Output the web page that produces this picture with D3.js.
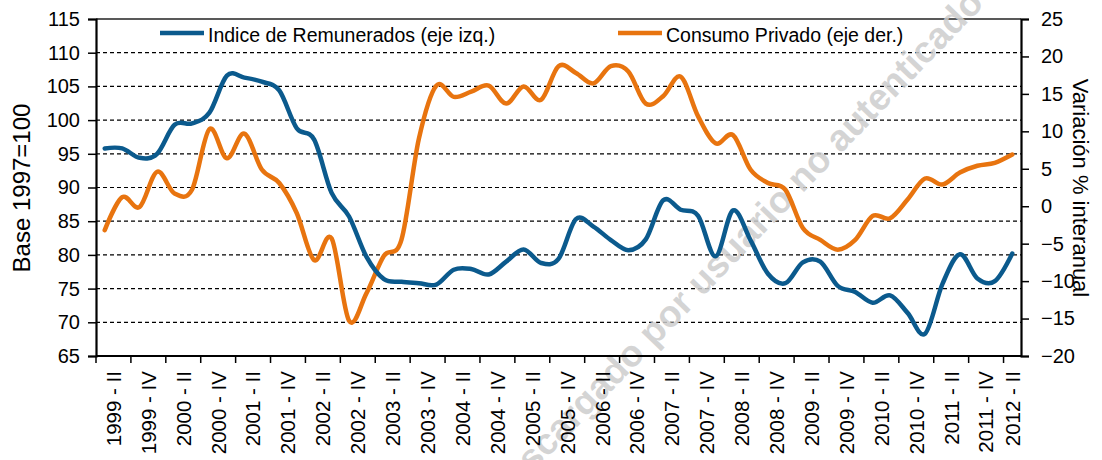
<!DOCTYPE html>
<html>
<head>
<meta charset="utf-8">
<script src="https://cdn.jsdelivr.net/npm/d3@7"></script>
<style>
  body { margin: 0; background: #fff; }
  svg { display: block; font-family: "Liberation Sans", Arial, sans-serif; }
</style>
</head>
<body>
<div id="chart"></div>
<script>
// quarters shown on the x axis (every 2nd one gets a label)
var quarters = [
  "1999 - II", "1999 - III", "1999 - IV",
  "2000 - I", "2000 - II", "2000 - III", "2000 - IV",
  "2001 - I", "2001 - II", "2001 - III", "2001 - IV",
  "2002 - I", "2002 - II", "2002 - III", "2002 - IV",
  "2003 - I", "2003 - II", "2003 - III", "2003 - IV",
  "2004 - I", "2004 - II", "2004 - III", "2004 - IV",
  "2005 - I", "2005 - II", "2005 - III", "2005 - IV",
  "2006 - I", "2006 - II", "2006 - III", "2006 - IV",
  "2007 - I", "2007 - II", "2007 - III", "2007 - IV",
  "2008 - I", "2008 - II", "2008 - III", "2008 - IV",
  "2009 - I", "2009 - II", "2009 - III", "2009 - IV",
  "2010 - I", "2010 - II", "2010 - III", "2010 - IV",
  "2011 - I", "2011 - II", "2011 - III", "2011 - IV",
  "2012 - I", "2012 - II"
];

// Indice de Remunerados (left axis, base 1997=100)
var remunerados = [
  95.8, 95.8, 94.4,
  95.0, 99.3, 99.5, 101.1,
  106.6, 106.3, 105.7, 104.4,
  98.8, 97.1, 89.2, 85.7,
  79.7, 76.4, 76.0, 75.8,
  75.6, 77.8, 77.9, 77.1,
  79.0, 80.8, 78.8, 79.4,
  85.3, 84.2, 82.2, 80.7,
  82.3, 88.1, 86.7, 85.8,
  79.8, 86.6, 82.2, 77.2,
  75.8, 78.9, 79.0, 75.4,
  74.5, 72.9, 74.0, 71.4,
  68.3, 75.7, 80.1, 76.5,
  76.1, 80.2
];

// Consumo Privado (right axis, % interanual)
var consumo = [
  -3.2, 1.2, -0.1,
  4.6, 1.7, 2.2, 10.3,
  6.4, 9.7, 4.9, 3.1,
  -0.9, -7.2, -4.3, -15.3,
  -11.6, -6.6, -4.5, 9.0,
  16.1, 14.6, 15.3, 16.1,
  13.7, 16.0, 14.2, 18.7,
  17.8, 16.4, 18.7, 18.0,
  13.7, 14.7, 17.3, 12.0,
  8.4, 9.5, 4.9, 3.1,
  2.2, -2.9, -4.5, -5.8,
  -4.5, -1.3, -1.6, 0.9,
  3.7, 2.9, 4.5, 5.4,
  5.8, 6.9
];

var leftTicks = [65, 70, 75, 80, 85, 90, 95, 100, 105, 110, 115];
var rightTicks = [-20, -15, -10, -5, 0, 5, 10, 15, 20, 25];

var blue = "#0b5a8d";
var orange = "#e8740f";

var width = 1102, height = 460;
var plot = { left: 96, right: 1021, top: 19, bottom: 356 };

var svg = d3.select("#chart").append("svg")
  .attr("width", width)
  .attr("height", height);

var x = d3.scaleBand()
  .domain(d3.range(quarters.length))
  .range([plot.left, plot.right])
  .padding(0);
var bw = x.bandwidth();

var yL = d3.scaleLinear().domain([65, 115]).range([plot.bottom, plot.top]);
var yR = d3.scaleLinear().domain([-20, 25]).range([plot.bottom, plot.top]);

// dashed gridlines (left axis)
svg.append("g")
  .selectAll("line")
  .data(leftTicks.filter(function(d) { return d > 65 && d < 115; }))
  .enter().append("line")
  .attr("x1", plot.left)
  .attr("x2", plot.right)
  .attr("y1", function(d) { return yL(d); })
  .attr("y2", function(d) { return yL(d); })
  .attr("stroke", "#000")
  .attr("stroke-width", 1.2)
  .attr("stroke-dasharray", "4,3");

// top border of the plot
svg.append("line")
  .attr("x1", plot.left).attr("x2", plot.right)
  .attr("y1", yL(115)).attr("y2", yL(115))
  .attr("stroke", "#222").attr("stroke-width", 1.4);

// watermark (behind the series, clipped by the page like the original)
svg.append("text")
  .attr("transform", "translate(733,247) rotate(-46)")
  .attr("text-anchor", "middle")
  .attr("dy", "0.35em")
  .attr("font-size", 37)
  .attr("font-weight", "bold")
  .attr("fill", "#cdcdcd")
  .attr("fill-opacity", 0.85)
  .text("Descargado por usuario no autenticado");

// left axis
var gl = svg.append("g").attr("transform", "translate(" + plot.left + ",0)")
  .call(d3.axisLeft(yL).tickValues(leftTicks).tickSize(8).tickPadding(8).tickFormat(d3.format("d")));
gl.select(".domain").attr("stroke-width", 2.2);
gl.selectAll(".tick line").attr("stroke-width", 1.5);
gl.selectAll("text").attr("font-size", 20).attr("fill", "#000")
  .attr("font-family", "Liberation Sans, Arial, sans-serif");

// right axis
var gr = svg.append("g").attr("transform", "translate(" + plot.right + ",0)")
  .call(d3.axisRight(yR).tickValues(rightTicks).tickSize(8).tickPadding(12).tickFormat(d3.format("d")));
gr.select(".domain").attr("stroke-width", 2.2);
gr.selectAll(".tick line").attr("stroke-width", 1.5);
gr.selectAll("text").attr("font-size", 20).attr("fill", "#000")
  .attr("font-family", "Liberation Sans, Arial, sans-serif");

// bottom axis: ticks every two quarters, labels centred between ticks
var tickIdx = d3.range(0, quarters.length, 2);
var gb = svg.append("g");
gb.append("line")
  .attr("x1", plot.left).attr("x2", plot.right)
  .attr("y1", plot.bottom).attr("y2", plot.bottom)
  .attr("stroke", "#000").attr("stroke-width", 2.2);
gb.selectAll(".xt")
  .data(tickIdx)
  .enter().append("line")
  .attr("class", "xt")
  .attr("x1", function(i) { return x(i); })
  .attr("x2", function(i) { return x(i); })
  .attr("y1", plot.bottom)
  .attr("y2", plot.bottom + 7)
  .attr("stroke", "#000").attr("stroke-width", 1.5);
gb.selectAll(".xl")
  .data(tickIdx)
  .enter().append("text")
  .attr("class", "xl")
  .attr("transform", function(i) {
    var cx = (x(i) + Math.min(x(i) + 2 * bw, plot.right)) / 2;
    return "translate(" + cx + "," + (plot.bottom + 15) + ") rotate(-90)";
  })
  .attr("text-anchor", "end")
  .attr("dy", "0.36em")
  .attr("font-size", 20.5)
  .text(function(i) { return quarters[i]; });

// axis titles
svg.append("text")
  .attr("transform", "translate(30,188) rotate(-90)")
  .attr("text-anchor", "middle")
  .attr("font-size", 24)
  .text("Base 1997=100");

svg.append("text")
  .attr("transform", "translate(1073,188) rotate(90)")
  .attr("text-anchor", "middle")
  .attr("font-size", 22)
  .text("Variación % interanual");

// lines
var lineL = d3.line()
  .x(function(d, i) { return x(i) + bw / 2; })
  .y(function(d) { return yL(d); })
  .curve(d3.curveCardinal.tension(0));

var lineR = d3.line()
  .x(function(d, i) { return x(i) + bw / 2; })
  .y(function(d) { return yR(d); })
  .curve(d3.curveCardinal.tension(0));

svg.append("path")
  .datum(consumo)
  .attr("d", lineR)
  .attr("fill", "none")
  .attr("stroke", orange)
  .attr("stroke-width", 4.5)
  .attr("stroke-linejoin", "round")
  .attr("stroke-linecap", "round");

svg.append("path")
  .datum(remunerados)
  .attr("d", lineL)
  .attr("fill", "none")
  .attr("stroke", blue)
  .attr("stroke-width", 4.5)
  .attr("stroke-linejoin", "round")
  .attr("stroke-linecap", "round");

// legend
var legendItems = [
  { name: "Indice de Remunerados (eje izq.)", color: blue, x: 160 },
  { name: "Consumo Privado (eje der.)", color: orange, x: 618 }
];
var legend = svg.selectAll(".legend")
  .data(legendItems)
  .enter().append("g")
  .attr("class", "legend")
  .attr("transform", function(d) { return "translate(" + d.x + ",33)"; });
legend.append("line")
  .attr("x1", 0).attr("x2", 44)
  .attr("stroke", function(d) { return d.color; })
  .attr("stroke-width", 4.5);
legend.append("text")
  .attr("x", 48)
  .attr("y", 8.5)
  .attr("font-size", 19.5)
  .text(function(d) { return d.name; });
</script>
</body>
</html>
